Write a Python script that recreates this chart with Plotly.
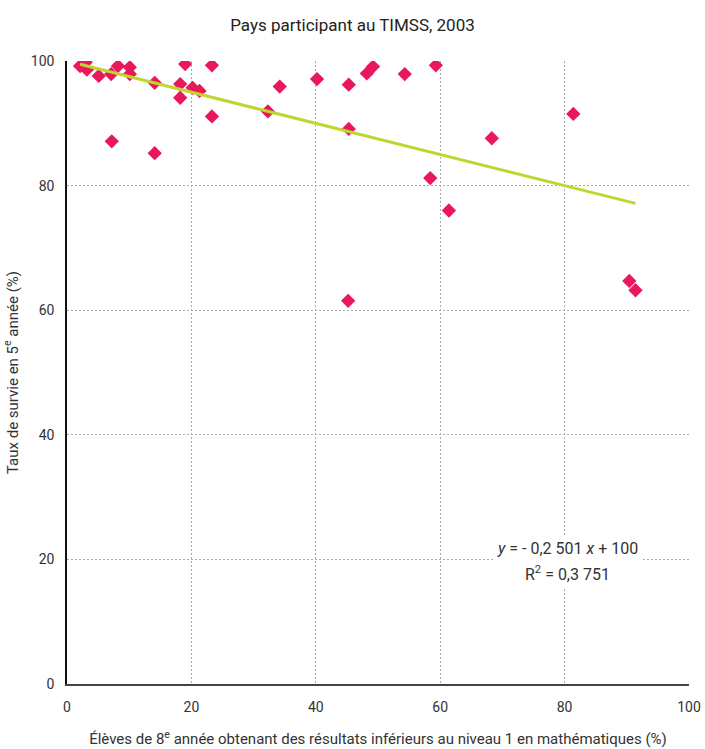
import plotly.graph_objects as go

# Élèves de 8e année sous le niveau 1 en mathématiques (%)
low_math = [2.1, 3.0, 3.2, 5.1, 7.1, 8.2, 10.1, 10.1, 14.1, 18.2, 18.2, 19.0,
            20.2, 21.3, 23.3, 23.3, 7.2, 14.1,
            32.3, 34.2, 40.2, 45.3, 45.3, 48.2, 49.2, 54.3, 59.3,
            45.2, 58.4, 61.4, 68.3, 81.4, 90.4, 91.4]
# Taux de survie en 5e année (%)
survival = [99.2, 99.8, 98.6, 97.6, 97.9, 99.2, 99.0, 97.9, 96.5, 96.3, 94.1, 99.5,
            95.7, 95.2, 91.1, 99.3, 87.1, 85.2,
            91.9, 95.9, 97.1, 96.2, 89.1, 98.0, 99.1, 97.9, 99.3,
            61.5, 81.2, 76.0, 87.6, 91.5, 64.7, 63.2]

slope = -0.2501
intercept = 100.0
trend_x = [min(low_math), max(low_math)]
trend_y = [slope * v + intercept for v in trend_x]

FONT = "Liberation Sans Narrow, Roboto, Arial Narrow, sans-serif"

fig = go.Figure()
fig.add_trace(go.Scatter(
    x=low_math, y=survival, mode="markers",
    marker=dict(symbol="diamond", size=11, color="#E8185A", line=dict(width=0)),
    showlegend=False,
))
fig.add_trace(go.Scatter(
    x=trend_x, y=trend_y, mode="lines",
    line=dict(color="#BFD630", width=3),
    showlegend=False,
))

# Regression equation and coefficient of determination
eq_lines = [("<i>y</i> = - 0,2 501 <i>x</i> + 100", 0.218),
            ("R<sup>2</sup> = 0,3 751", 0.178)]
for txt, ypos in eq_lines:
    fig.add_annotation(
        x=0.804, y=ypos, xref="paper", yref="paper", xanchor="center", yanchor="middle",
        text=txt, showarrow=False, align="center", bgcolor="white",
        font=dict(family=FONT, size=16, color="#333"), borderpad=3,
    )

fig.update_layout(
    width=705, height=749,
    margin=dict(l=67, r=16, t=61, b=65, autoexpand=False),
    paper_bgcolor="white", plot_bgcolor="white",
    font=dict(family=FONT, size=14, color="#333"),
    title=dict(text="Pays participant au TIMSS, 2003", x=0.5, xanchor="center",
               y=0.967, yanchor="middle", font=dict(family=FONT, size=17, color="#222")),
    xaxis=dict(
        range=[0, 100], dtick=20, showgrid=True, gridcolor="#aaaaaa", griddash="2px,2px",
        gridwidth=1, zeroline=False, showline=True, linecolor="#444", linewidth=1.5,
        ticks="", ticklabelstandoff=9, automargin=False,
        title=dict(text="Élèves de 8<sup>e</sup> année obtenant des résultats inférieurs au niveau 1 en mathématiques (%)",
                   font=dict(family=FONT, size=15), standoff=20),
    ),
    yaxis=dict(
        range=[0, 100], dtick=20, showgrid=True, gridcolor="#aaaaaa", griddash="2px,2px",
        gridwidth=1, zeroline=False, showline=True, linecolor="#111", linewidth=1.5,
        ticks="", ticklabelstandoff=8, automargin=False,
        title=dict(text="Taux de survie en 5<sup>e</sup> année (%)",
                   font=dict(family=FONT, size=15), standoff=9),
    ),
)

fig.write_html("out.html")
